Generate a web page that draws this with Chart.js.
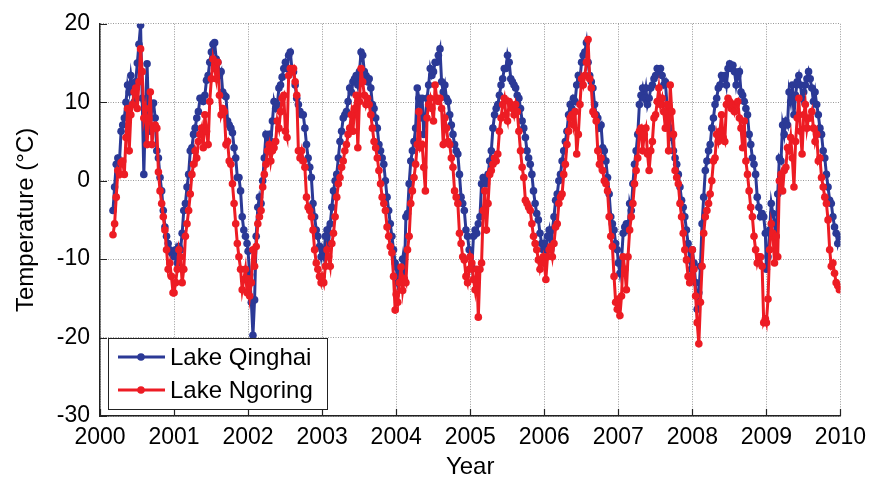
<!DOCTYPE html>
<html>
<head>
<meta charset="utf-8">
<script src="https://cdn.jsdelivr.net/npm/chart.js@4.4.1/dist/chart.umd.min.js"></script>
<style>
  html, body { margin: 0; padding: 0; background: #fff; }
  canvas { display: block; }
</style>
</head>
<body>
<canvas id="chart" width="874" height="483"></canvas>
<script>
// 8-day composites, first one on day 65 of 2000, 46 composites per year
const firstYear = 2000;
const firstComposite = 8;
const compositesPerYear = 46;

const yTicks = [-30, -20, -10, 0, 10, 20];
const xTicks = [2000, 2001, 2002, 2003, 2004, 2005, 2006, 2007, 2008, 2009, 2010];

// Lake Qinghai, one line per year
const qinghai = [
  -3.8, -0.8, 2.1, 2.9, 2.5, 6.3, 7.1, 8.0, 10.0, 12.2, 11.3, 13.4, 11.8, 10.0, 12.6, 15.0, 17.4, 19.8, 10.5, 0.8, 8.8, 14.9, 8.0, 6.3, 9.7, 9.9, 8.0, 3.8, 2.9, 0.4, -1.3, -3.8, -5.9, -7.1, -8.0, -8.8, -9.2, -9.5,
  -9.7, -8.8, -10.5, -8.4, -8.8, -6.7, -3.8, -2.9, -0.8, 0.8, 3.8, 4.2, 5.9, 6.7, 8.0, 8.8, 10.5, 10.5, 10.1, 10.9, 12.8, 13.4, 15.1, 16.4, 17.4, 17.6, 15.5, 15.1, 13.4, 13.9, 11.3, 10.9, 10.7, 7.6, 7.1, 6.7, 6.1, 4.2, 2.9, 0.4, 0.4, -1.3, -4.6, -6.3, -7.1, -8.0,
  -9.0, -12.0, -15.5, -19.7, -15.2, -7.1, -3.4, -2.1, -2.9, 0.0, 2.9, 5.9, 5.5, 5.9, 5.0, 7.6, 10.1, 9.2, 9.7, 11.8, 12.2, 13.2, 14.3, 15.1, 14.3, 16.0, 16.4, 14.3, 13.9, 12.2, 10.5, 9.7, 8.8, 8.4, 8.4, 6.7, 4.6, 2.9, 1.7, 0.4, -2.9, -4.6, -6.3, -7.1, -8.4, -9.7,
  -8.8, -9.7, -7.1, -6.3, -8.0, -5.5, -3.4, -1.3, 0.0, 0.8, 2.9, 5.0, 6.3, 8.0, 8.4, 8.8, 10.1, 11.8, 11.3, 12.6, 13.0, 13.4, 12.2, 13.9, 16.4, 16.0, 13.9, 13.4, 12.6, 13.0, 11.8, 9.7, 9.2, 8.0, 6.7, 4.6, 3.8, 2.9, 2.1, 0.0, -2.1, -3.8, -5.5, -7.1, -8.8, -10.5,
  -11.0, -13.0, -12.0, -11.5, -10.0, -12.6, -4.6, -4.2, -0.4, 2.5, 3.8, 5.0, 6.7, 11.8, 10.5, 8.0, 10.5, 5.9, 8.0, 10.5, 12.2, 14.3, 13.4, 13.9, 15.1, 15.1, 16.0, 16.8, 12.6, 11.3, 12.2, 10.5, 10.1, 8.4, 7.1, 5.9, 4.6, 3.8, 3.4, 0.8, -2.1, -2.9, -3.8, -6.3, -7.1, -8.8,
  -9.7, -11.0, -7.1, -6.3, -6.7, -5.5, -4.6, -0.4, 0.4, 0.0, -0.4, 0.8, 2.5, 3.8, 6.7, 8.4, 9.2, 9.7, 10.9, 12.2, 13.0, 14.3, 14.3, 16.0, 15.1, 13.0, 12.6, 12.2, 11.8, 10.9, 10.5, 9.2, 7.6, 6.7, 5.5, 3.8, 2.9, 2.1, 0.8, -1.3, -2.9, -4.2, -5.0, -6.7, -8.0, -8.8,
  -8.0, -8.8, -7.1, -6.3, -8.8, -6.3, -4.6, -2.5, -1.7, 0.0, 0.8, 2.5, 3.8, 5.0, 6.3, 8.4, 9.7, 9.2, 10.5, 10.1, 12.2, 13.4, 13.0, 15.1, 16.0, 16.4, 17.6, 15.1, 13.4, 12.6, 11.8, 9.7, 8.4, 8.0, 6.7, 7.1, 4.2, 3.8, 2.5, 0.4, -1.7, -4.6, -5.5, -6.3, -8.0, -8.8,
  -10.5, -11.8, -10.1, -6.7, -5.9, -5.5, -6.3, -2.9, -3.8, -0.4, 2.1, 3.8, 5.9, 9.7, 10.9, 11.8, 10.5, 11.8, 9.7, 10.5, 11.8, 12.2, 13.0, 13.4, 14.3, 13.9, 14.3, 13.4, 12.2, 12.6, 9.7, 8.8, 6.7, 5.5, 3.8, 2.9, 2.1, 0.8, -0.8, -2.5, -3.4, -4.6, -6.3, -8.0, -10.1, -11.3,
  -8.8, -10.5, -13.0, -16.4, -14.3, -10.9, -5.5, -2.1, 1.3, 2.5, 3.8, 4.6, 6.7, 8.0, 9.7, 10.5, 11.8, 12.2, 13.4, 13.0, 13.4, 12.2, 14.3, 14.9, 14.3, 14.7, 13.9, 12.2, 13.4, 13.9, 11.3, 10.9, 10.1, 9.2, 8.4, 5.9, 4.6, 2.9, 2.1, 0.8, -2.1, -3.4, -4.6, -4.2, -4.6, -6.7,
  -11.3, -9.7, -6.3, -2.9, -4.2, -5.5, -7.1, -1.7, 2.9, 2.5, 7.1, 5.9, 7.6, 7.1, 11.3, 10.1, 12.2, 8.4, 10.9, 12.6, 13.4, 12.2, 10.5, 11.3, 12.2, 13.0, 13.9, 13.0, 11.8, 10.1, 11.3, 9.7, 8.4, 6.7, 5.9, 3.8, 2.9, 0.8, -0.8, -2.5, -2.9, -4.6, -5.9, -6.7, -8.0, -7.1
];

// Lake Ngoring, one line per year
const ngoring = [
  -6.9, -5.5, -2.1, 1.3, 0.8, 2.3, 2.5, 0.8, 5.5, 9.2, 3.8, 8.4, 9.7, 11.3, 11.8, 9.2, 12.6, 16.8, 13.9, 8.0, 9.2, 4.6, 8.0, 11.3, 4.6, 6.7, 7.1, 6.7, 1.1, -1.3, -2.9, -4.6, -6.3, -8.8, -11.3, -10.5, -12.2, -14.3,
  -14.3, -13.0, -11.3, -8.8, -9.7, -13.0, -11.3, -7.1, -5.5, -3.8, -1.7, 0.8, 2.1, 3.8, 2.9, 5.0, 5.9, 6.7, 4.2, 8.4, 6.3, 4.6, 10.1, 13.0, 15.5, 14.3, 13.0, 15.1, 10.9, 8.4, 9.2, 8.8, 4.6, 5.0, 2.5, 2.1, -0.4, -2.9, -5.5, -8.0, -9.7, -11.3, -13.9, -12.6, -11.3, -14.3,
  -12.5, -14.7, -13.0, -8.8, -10.9, -8.4, -5.5, -4.6, -3.8, -0.8, 0.8, 2.1, 3.8, 4.6, 2.5, 3.8, 4.2, 5.0, 7.6, 6.7, 8.8, 10.5, 10.9, 6.3, 5.5, 13.4, 14.3, 13.9, 14.3, 12.6, 10.9, 3.8, 2.9, 3.8, 2.5, 1.7, -2.1, -3.4, -3.8, -4.6, -6.3, -8.8, -10.5, -11.3, -12.2, -13.0,
  -12.2, -13.0, -10.9, -8.8, -9.7, -10.9, -8.0, -6.7, -4.6, -2.1, -0.4, 0.4, 1.7, 2.5, 3.8, 4.6, 5.9, 6.7, 8.4, 6.3, 9.2, 10.9, 4.2, 10.1, 14.3, 12.6, 10.9, 9.7, 10.5, 9.7, 8.4, 6.7, 5.0, 4.2, 2.9, 1.3, -0.4, -2.1, -2.9, -3.8, -5.9, -7.1, -8.4, -9.2, -12.2, -16.5,
  -14.5, -15.5, -13.0, -11.0, -14.0, -12.5, -13.0, -8.8, -7.1, -2.9, -1.3, 0.4, 2.1, 4.6, 8.8, 4.2, 4.6, 1.7, -1.3, 8.0, 9.7, 10.5, 9.2, 7.6, 12.2, 10.5, 10.1, 10.5, 9.2, 4.6, 8.0, 6.7, 5.0, 4.6, 2.9, 1.7, -1.3, -2.1, -2.9, -6.7, -8.0, -9.7, -10.1, -12.2, -13.0, -11.3,
  -9.7, -10.5, -12.6, -13.9, -11.3, -17.4, -11.3, -10.5, -3.8, -1.3, -6.3, -2.9, 0.8, 1.3, 2.1, 2.9, 2.5, 3.4, 6.3, 8.0, 9.7, 10.5, 8.4, 7.6, 10.1, 9.7, 9.2, 8.4, 9.7, 8.8, 6.3, 3.8, 1.7, 0.4, -2.5, -2.9, -3.4, -3.8, -5.5, -7.1, -8.0, -8.8, -10.1, -11.3, -10.5, -9.7,
  -10.5, -12.6, -9.7, -8.8, -8.4, -9.7, -8.0, -5.9, -5.5, -2.9, -2.1, -1.7, 0.8, 2.1, 4.6, 6.3, 8.0, 8.4, 7.1, 8.8, 3.4, 5.9, 9.7, 13.0, 12.2, 13.4, 15.1, 18.0, 13.0, 11.8, 8.8, 8.4, 7.6, 3.8, 2.1, 2.9, 1.3, 0.0, -0.4, -1.3, -4.6, -7.1, -8.4, -12.2, -15.5, -16.4,
  -15.1, -17.2, -14.7, -9.7, -11.3, -13.9, -9.7, -6.3, -4.6, -2.9, -0.4, 1.3, 2.9, 6.3, 6.7, 3.8, 5.9, 6.7, 3.4, 1.3, 3.8, 5.0, 8.0, 8.4, 10.1, 11.8, 9.7, 10.5, 8.8, 6.7, 9.7, 3.8, 12.2, 8.8, 5.9, 1.3, 0.4, -0.4, -2.9, -4.6, -6.7, -8.8, -10.1, -12.2, -13.0, -12.6,
  -8.8, -11.3, -14.7, -18.1, -20.8, -15.5, -10.9, -6.7, -4.6, -3.8, -2.9, -1.7, 0.0, 2.5, 2.9, 5.9, 5.0, 6.3, 8.4, 5.5, 5.0, 9.7, 10.5, 10.1, 9.2, 9.7, 8.8, 9.7, 10.1, 8.0, 6.7, 4.2, 7.6, 2.5, 0.8, -1.3, -3.4, -4.6, -7.1, -8.8, -10.5, -9.7, -9.7, -10.9, -18.1, -17.6,
  -18.1, -15.1, -8.8, -5.5, -6.7, -10.5, -7.1, -9.7, 0.0, 0.8, -1.3, 1.3, 1.7, 4.2, 3.8, 5.5, 2.9, -0.8, 5.0, 8.0, 10.5, 6.3, 3.4, 8.4, 9.7, 6.7, 8.0, 8.0, 8.8, 6.7, 5.0, 5.9, 2.5, 2.9, 0.4, -0.8, -2.1, -2.9, -5.0, -8.8, -10.9, -10.5, -11.8, -13.0, -13.4, -13.9
];

const blue = 'rgb(43, 57, 150)';
const red = 'rgb(237, 28, 36)';
const font = "'Liberation Sans', Arial, sans-serif";

// composite index -> decimal year
function toPoints(values) {
  return values.map((v, i) => {
    const n = i + firstComposite;
    const year = firstYear + Math.floor(n / compositesPerYear);
    const day = (n % compositesPerYear) * 8;
    return { x: year + day / 365, y: v };
  });
}

// MATLAB style inward ticks on left and bottom axes
const inwardTicks = {
  id: 'inwardTicks',
  afterDatasetsDraw(chart) {
    const { ctx, chartArea: a, scales } = chart;
    ctx.save();
    ctx.strokeStyle = '#222';
    ctx.lineWidth = 1.2;
    ctx.beginPath();
    xTicks.forEach(t => {
      const px = Math.round(scales.x.getPixelForValue(t)) + 0.5;
      ctx.moveTo(px, a.bottom);
      ctx.lineTo(px, a.bottom - 7);
    });
    yTicks.forEach(t => {
      const py = Math.round(scales.y.getPixelForValue(t)) + 0.5;
      ctx.moveTo(a.left, py);
      ctx.lineTo(a.left + 7, py);
    });
    ctx.stroke();
    ctx.restore();
  }
};

// boxed legend in the lower left corner, like the original figure
const boxLegend = {
  id: 'boxLegend',
  afterDraw(chart) {
    const { ctx, chartArea: a } = chart;
    const items = [chart.data.datasets[1], chart.data.datasets[0]];
    const x0 = a.left + 8, y0 = 338, w = 219, h = 71;
    ctx.save();
    ctx.fillStyle = '#fff';
    ctx.fillRect(x0, y0, w, h);
    ctx.strokeStyle = '#222';
    ctx.lineWidth = 1;
    ctx.strokeRect(x0 + 0.5, y0 + 0.5, w, h);
    items.forEach((ds, i) => {
      const y = y0 + 19 + i * 33;
      ctx.strokeStyle = ds.borderColor;
      ctx.lineWidth = 3;
      ctx.beginPath();
      ctx.moveTo(x0 + 10, y);
      ctx.lineTo(x0 + 57, y);
      ctx.stroke();
      ctx.fillStyle = ds.borderColor;
      ctx.beginPath();
      ctx.arc(x0 + 33, y, 3.8, 0, Math.PI * 2);
      ctx.fill();
      ctx.fillStyle = '#000';
      ctx.font = '24px ' + font;
      ctx.textBaseline = 'middle';
      ctx.fillText(ds.label, x0 + 62, y + 1);
    });
    ctx.restore();
  }
};

const grid = {
  color: '#999',
  lineWidth: 1,
  drawTicks: false
};

const border = { display: true, color: '#222', width: 1.5, dash: [1, 1.5] };

new Chart(document.getElementById('chart'), {
  type: 'line',
  data: {
    datasets: [
      {
        label: 'Lake Ngoring',
        data: toPoints(ngoring),
        borderColor: red,
        backgroundColor: red,
        borderWidth: 3,
        pointRadius: 3.8,
        pointBorderWidth: 0,
        order: 0
      },
      {
        label: 'Lake Qinghai',
        data: toPoints(qinghai),
        borderColor: blue,
        backgroundColor: blue,
        borderWidth: 3,
        pointRadius: 3.8,
        pointBorderWidth: 0,
        order: 1
      }
    ]
  },
  options: {
    responsive: false,
    animation: false,
    events: [],
    layout: { padding: { top: 20, right: 28, left: 0, bottom: 0 } },
    elements: { line: { tension: 0 } },
    plugins: {
      legend: { display: false },
      tooltip: { enabled: false }
    },
    scales: {
      x: {
        type: 'linear',
        min: 2000,
        max: 2010,
        afterBuildTicks: s => { s.ticks = xTicks.map(v => ({ value: v })); },
        afterFit: s => { s.height = 67; },
        grid: grid,
        border: border,
        ticks: {
          color: '#000',
          font: { family: font, size: 23 },
          padding: 8,
          maxRotation: 0,
          autoSkip: false,
          callback: v => String(v)
        },
        title: {
          display: true,
          text: 'Year',
          color: '#000',
          font: { family: font, size: 24 },
          padding: { top: 0, bottom: 1 }
        }
      },
      y: {
        type: 'linear',
        min: -30,
        max: 20,
        afterBuildTicks: s => { s.ticks = yTicks.map(v => ({ value: v })); },
        afterFit: s => { s.width = 100; },
        grid: grid,
        border: border,
        ticks: {
          color: '#000',
          font: { family: font, size: 23 },
          padding: 10
        },
        title: {
          display: true,
          text: 'Temperature (°C)',
          color: '#000',
          font: { family: font, size: 24 },
          padding: { top: 12, bottom: 0 }
        }
      }
    }
  },
  plugins: [inwardTicks, boxLegend]
});
</script>
</body>
</html>
